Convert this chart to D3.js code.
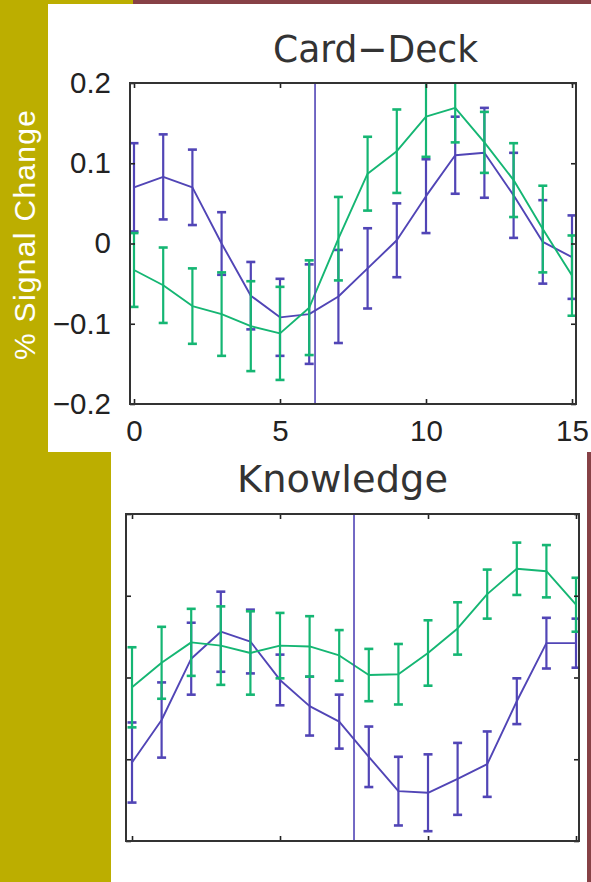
<!DOCTYPE html>
<html>
<head>
<meta charset="utf-8">
<script src="https://cdn.jsdelivr.net/npm/d3@7"></script>
<style>
  html, body { margin: 0; padding: 0; background: #ffffff; }
  svg { display: block; }
</style>
</head>
<body>
<svg id="fig" width="591" height="882"></svg>
<script>
// Time points (scan index) shared by both panels
const timePoints = [0, 1, 2, 3, 4, 5, 6, 7, 8, 9, 10, 11, 12, 13, 14, 15];

// Card-Deck condition: mean % signal change and half-width of error bars
const cardDeckBlue    = [0.070, 0.083, 0.070, 0.000, -0.065, -0.092, -0.088, -0.066, -0.031, 0.004, 0.059, 0.110, 0.113, 0.060, 0.002, -0.017];
const cardDeckBlueErr = [0.055, 0.053, 0.047, 0.039, 0.042, 0.048, 0.062, 0.058, 0.050, 0.046, 0.046, 0.048, 0.056, 0.053, 0.052, 0.052];
const cardDeckGreen    = [-0.033, -0.052, -0.078, -0.088, -0.103, -0.112, -0.080, 0.006, 0.087, 0.115, 0.158, 0.169, 0.126, 0.079, 0.018, -0.040];
const cardDeckGreenErr = [0.046, 0.047, 0.047, 0.052, 0.056, 0.058, 0.059, 0.052, 0.046, 0.052, 0.050, 0.043, 0.038, 0.046, 0.054, 0.050];

// Knowledge condition
const knowledgeBlue    = [-0.104, -0.052, 0.023, 0.056, 0.044, -0.003, -0.035, -0.054, -0.097, -0.139, -0.141, -0.124, -0.106, -0.029, 0.042, 0.042];
const knowledgeBlueErr = [0.049, 0.046, 0.044, 0.049, 0.039, 0.031, 0.036, 0.033, 0.037, 0.042, 0.047, 0.044, 0.040, 0.028, 0.031, 0.030];
const knowledgeGreen    = [-0.012, 0.018, 0.043, 0.039, 0.030, 0.039, 0.038, 0.027, 0.003, 0.004, 0.030, 0.060, 0.102, 0.133, 0.130, 0.089];
const knowledgeGreenErr = [0.049, 0.044, 0.041, 0.048, 0.051, 0.040, 0.037, 0.031, 0.032, 0.037, 0.040, 0.032, 0.030, 0.032, 0.032, 0.033];

// Event onset marker per panel (in time-point units)
const onsetMarkers = [6.2, 7.5];

// Axis ticks and labels
const xTicks = [0, 5, 10, 15];
const xTickLabels = ["0", "5", "10", "15"];
const yTicks = [-0.2, -0.1, 0, 0.1, 0.2];
const yTickLabels = ["\u22120.2", "\u22120.1", "0", "0.1", "0.2"];

const panelTitles = ["Card\u2212Deck", "Knowledge"];
const yAxisLabel = "% Signal Change";

const BLUE = "#5145b6";
const GREEN = "#15b673";
const OLIVE = "#bcae00";
const MAROON = "#874146";

const svg = d3.select("#fig");

// Slide background: olive side band, maroon top rule, white figure areas
svg.append("rect").attr("x", 0).attr("y", 0).attr("width", 591).attr("height", 882).attr("fill", OLIVE);
svg.append("rect").attr("x", 133).attr("y", 0).attr("width", 458).attr("height", 4).attr("fill", MAROON);
svg.append("rect").attr("x", 48).attr("y", 4).attr("width", 543).attr("height", 448).attr("fill", "#ffffff");
svg.append("rect").attr("x", 111).attr("y", 452).attr("width", 476).attr("height", 430).attr("fill", "#ffffff");
svg.append("rect").attr("x", 587).attr("y", 452).attr("width", 4).attr("height", 430).attr("fill", MAROON);

// Rotated y-axis caption on the olive band
svg.append("text")
  .attr("transform", "translate(35,360) rotate(-90)")
  .attr("text-anchor", "start")
  .attr("font-family", "Liberation Sans, Arial, sans-serif")
  .attr("font-size", 30)
  .attr("fill", "#ffffff")
  .attr("textLength", 250)
  .attr("lengthAdjust", "spacing")
  .text(yAxisLabel);

function drawPanel(cfg) {
  const x = d3.scaleLinear().domain(cfg.xDomain).range([cfg.left, cfg.right]);
  const y = d3.scaleLinear().domain([-0.2, 0.2]).range([cfg.bottom, cfg.top]);
  const g = svg.append("g");

  const clipId = "clip" + cfg.id;
  svg.append("clipPath").attr("id", clipId)
    .append("rect")
    .attr("x", cfg.left).attr("y", cfg.top)
    .attr("width", cfg.right - cfg.left).attr("height", cfg.bottom - cfg.top);

  const plot = g.append("g").attr("clip-path", `url(#${clipId})`);

  const series = [
    { mean: cfg.blue, err: cfg.blueErr, color: BLUE },
    { mean: cfg.green, err: cfg.greenErr, color: GREEN }
  ];

  const line = d3.line().x((d, i) => x(timePoints[i])).y(d => y(d));
  const cap = 4.5;

  series.forEach(s => {
    const sg = plot.append("g");
    const pts = s.mean.map((m, i) => ({ t: timePoints[i], m: m, e: s.err[i] }));
    // vertical error bars
    sg.selectAll("line.bar").data(pts).join("line")
      .attr("x1", d => x(d.t)).attr("x2", d => x(d.t))
      .attr("y1", d => y(d.m - d.e)).attr("y2", d => y(d.m + d.e))
      .attr("stroke", s.color).attr("stroke-width", 2.2);
    // caps
    ["lo", "hi"].forEach(k => {
      sg.selectAll("line.cap" + k).data(pts).join("line")
        .attr("x1", d => x(d.t) - cap).attr("x2", d => x(d.t) + cap)
        .attr("y1", d => y(k === "lo" ? d.m - d.e : d.m + d.e))
        .attr("y2", d => y(k === "lo" ? d.m - d.e : d.m + d.e))
        .attr("stroke", s.color).attr("stroke-width", 2.6);
    });
    // connecting mean line
    sg.append("path").datum(s.mean)
      .attr("d", line)
      .attr("fill", "none")
      .attr("stroke", s.color)
      .attr("stroke-width", 1.9)
      .attr("stroke-linejoin", "round");
  });

  // onset marker
  plot.append("line")
    .attr("x1", x(cfg.onset)).attr("x2", x(cfg.onset))
    .attr("y1", y(-0.2)).attr("y2", y(0.2))
    .attr("stroke", BLUE).attr("stroke-width", 1.6);

  // axes with inward ticks on all four sides
  const fmtX = (d, i) => cfg.labels ? xTickLabels[i] : "";
  const fmtY = (d, i) => cfg.labels ? yTickLabels[i] : "";
  const axes = [
    g.append("g").attr("transform", `translate(0,${cfg.bottom})`)
      .call(d3.axisBottom(x).tickValues(xTicks).tickFormat(fmtX).tickSizeInner(-5).tickSizeOuter(0).tickPadding(16)),
    g.append("g").attr("transform", `translate(0,${cfg.top})`)
      .call(d3.axisTop(x).tickValues(xTicks).tickFormat("").tickSizeInner(-5).tickSizeOuter(0)),
    g.append("g").attr("transform", `translate(${cfg.left},0)`)
      .call(d3.axisLeft(y).tickValues(yTicks).tickFormat(fmtY).tickSizeInner(-5).tickSizeOuter(0).tickPadding(19)),
    g.append("g").attr("transform", `translate(${cfg.right},0)`)
      .call(d3.axisRight(y).tickValues(yTicks).tickFormat("").tickSizeInner(-5).tickSizeOuter(0))
  ];
  axes.forEach(a => {
    a.select(".domain").remove();
    a.selectAll(".tick line").attr("stroke", "#222").attr("stroke-width", 1.6);
    a.selectAll(".tick text")
      .attr("font-family", "Liberation Sans, Arial, sans-serif")
      .attr("font-size", 29.5)
      .attr("fill", "#222");
  });

  // frame
  g.append("rect")
    .attr("x", cfg.left).attr("y", cfg.top)
    .attr("width", cfg.right - cfg.left).attr("height", cfg.bottom - cfg.top)
    .attr("fill", "none").attr("stroke", "#333").attr("stroke-width", 2);

  // title
  g.append("text")
    .attr("x", cfg.titleX).attr("y", cfg.titleY)
    .attr("text-anchor", "middle")
    .attr("font-family", "DejaVu Sans, sans-serif")
    .attr("font-size", 38)
    .attr("fill", "#333")
    .attr("textLength", cfg.titleLen)
    .attr("lengthAdjust", "spacingAndGlyphs")
    .text(cfg.title);
}

drawPanel({
  id: "card", title: panelTitles[0], titleX: 375.5, titleY: 62, titleLen: 205,
  left: 130, right: 576, top: 83, bottom: 404,
  xDomain: [-0.137, 15.137],
  blue: cardDeckBlue, blueErr: cardDeckBlueErr,
  green: cardDeckGreen, greenErr: cardDeckGreenErr,
  onset: onsetMarkers[0], labels: true
});

drawPanel({
  id: "know", title: panelTitles[1], titleX: 342.5, titleY: 492, titleLen: 211,
  left: 126, right: 579, top: 514, bottom: 841,
  xDomain: [-0.203, 15.101],
  blue: knowledgeBlue, blueErr: knowledgeBlueErr,
  green: knowledgeGreen, greenErr: knowledgeGreenErr,
  onset: onsetMarkers[1], labels: false
});
</script>
</body>
</html>
